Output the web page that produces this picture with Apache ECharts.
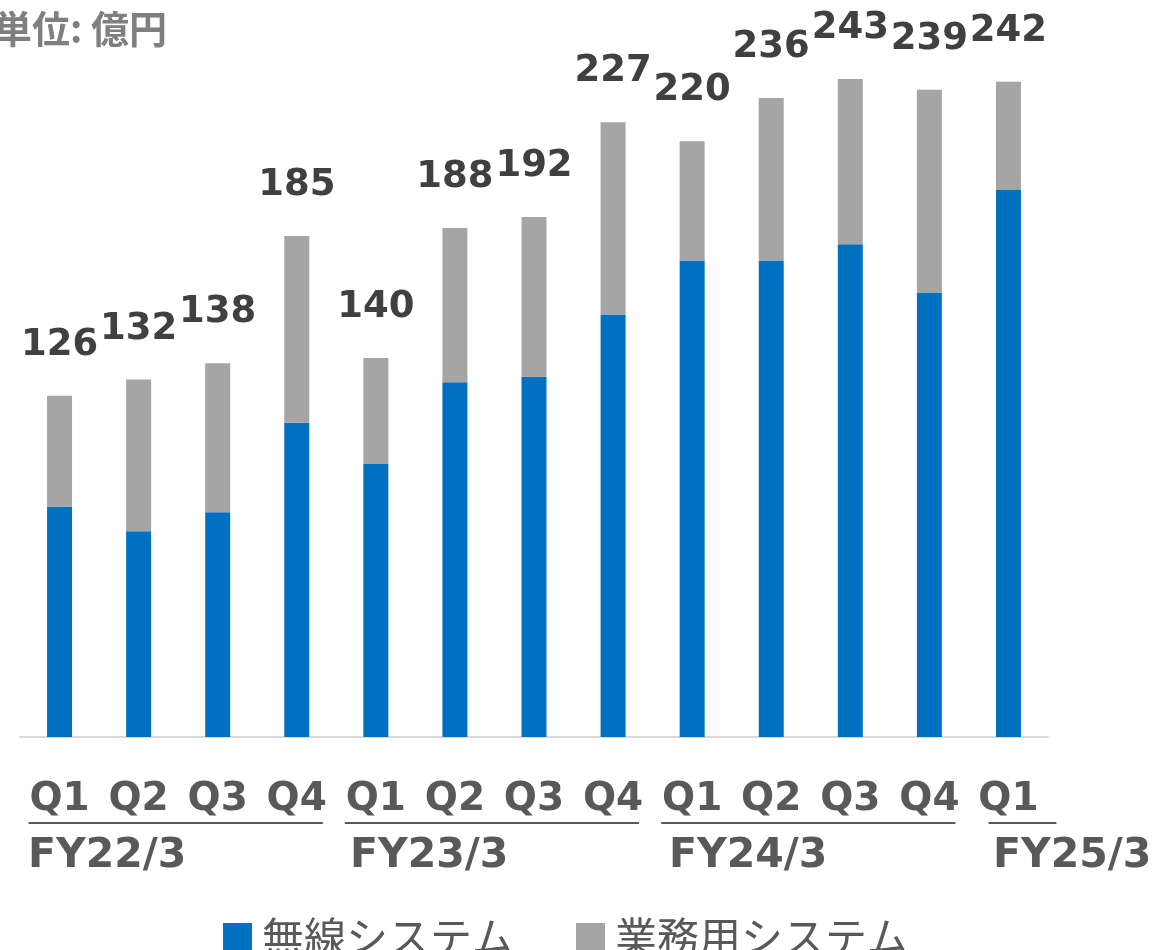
<!DOCTYPE html>
<html>
<head>
<meta charset="utf-8">
<script src="https://cdn.jsdelivr.net/npm/echarts@6/dist/echarts.min.js"></script>
<style>
html, body { margin: 0; padding: 0; background: #fff; }
#main { width: 1163px; height: 950px; }
</style>
</head>
<body>
<div id="main"></div>
<script>
// 四半期ラベル
var quarters = ['Q1','Q2','Q3','Q4','Q1','Q2','Q3','Q4','Q1','Q2','Q3','Q4','Q1'];
// 無線システム (億円)
var wireless = [85, 76, 83, 116, 101, 131, 133, 156, 176, 176, 182, 164, 202];
// 業務用システム (億円)
var business = [41, 56, 55, 69, 39, 57, 59, 71, 44, 60, 61, 75, 40];
// 合計 (ラベル用)
var totals = [126, 132, 138, 185, 140, 188, 192, 227, 220, 236, 243, 239, 242];
// 年度
var fiscalYears = ['FY22/3', 'FY23/3', 'FY24/3', 'FY25/3'];

var numFont = 'DejaVu Sans';
var jpFont = 'Noto Sans CJK JP';

var myChart = echarts.init(document.getElementById('main'));
var option = {
	animation: false,
	grid: { left: 20, right: 115, top: 60, bottom: 213 },
	legend: {
		left: 218,
		top: 911,
		icon: 'rect',
		itemWidth: 29,
		itemHeight: 28,
		itemGap: 62,
		textStyle: { fontSize: 42, color: '#595959', fontFamily: jpFont, padding: [0, 0, 0, 5] },
		data: ['無線システム', '業務用システム']
	},
	xAxis: {
		type: 'category',
		data: quarters,
		axisLine: { lineStyle: { color: '#d9d9d9', width: 2 } },
		axisTick: { show: false },
		axisLabel: {
			interval: 0,
			margin: 42,
			fontSize: 39,
			lineHeight: 42,
			fontWeight: 'bold',
			color: '#595959',
			fontFamily: numFont
		}
	},
	yAxis: {
		type: 'value',
		min: 0,
		max: 250,
		show: false
	},
	series: [
		{
			name: '無線システム',
			type: 'bar',
			stack: 'total',
			barWidth: 25,
			itemStyle: { color: '#0070c0' },
			data: wireless
		},
		{
			name: '業務用システム',
			type: 'bar',
			stack: 'total',
			barWidth: 25,
			itemStyle: { color: '#a5a5a5' },
			label: {
				show: true,
				position: 'top',
				distance: 32,
				fontSize: 37,
				fontWeight: 'bold',
				color: '#404040',
				fontFamily: numFont,
				formatter: function(p){ return totals[p.dataIndex]; }
			},
			data: business
		}
	]
};
myChart.setOption(option);

// 年度の下線とラベル
var lineY = 823;
var groups = [[0, 3], [4, 7], [8, 11], [12, 12]];
var fyX = [28, 350, 669, 993];
var gfx = [{
	type: 'text', left: -6, top: 10,
	style: { text: '単位: 億円', font: 'bold 38px "' + jpFont + '"', fill: '#7f7f7f' }
}];
groups.forEach(function(g, i){
	var x1 = myChart.convertToPixel({ xAxisIndex: 0 }, g[0]) - 31;
	var x2 = myChart.convertToPixel({ xAxisIndex: 0 }, g[1]) + 26;
	if (i == 3) { x1 += 11; x2 += 22; }
	gfx.push({
		type: 'line',
		shape: { x1: x1, y1: lineY, x2: x2, y2: lineY },
		style: { stroke: '#595959', lineWidth: 2 }
	});
	gfx.push({
		type: 'text', x: fyX[i], y: 856,
		style: { text: fiscalYears[i], font: 'bold 41px "' + numFont + '"', fill: '#595959', textVerticalAlign: 'middle' }
	});
});
myChart.setOption({ graphic: gfx });
</script>
</body>
</html>
